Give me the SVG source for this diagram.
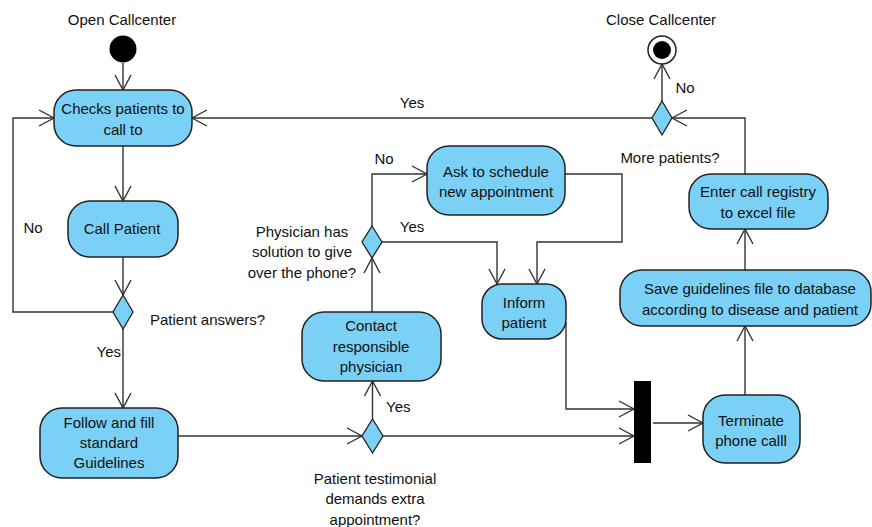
<svg xmlns="http://www.w3.org/2000/svg" width="872" height="527" viewBox="0 0 872 527">
  <style>
    .act { fill: #7bd0f5; stroke: #222; stroke-width: 1.5; }
    .dec { fill: #7bd0f5; stroke: #222; stroke-width: 1.3; }
    .edge { fill: none; stroke: #333; stroke-width: 1.4; marker-end: url(#arr); }
    text { font-family: "Liberation Sans", Arial, sans-serif; font-size: 15px; fill: #111; }
    .c { text-anchor: middle; }
  </style>
  <defs>
    <marker id="arr" markerWidth="20" markerHeight="20" refX="16" refY="9" orient="auto" markerUnits="userSpaceOnUse">
      <path d="M1,1 L16,9 L1,17" fill="none" stroke="#333" stroke-width="1.4"/>
    </marker>
  </defs>
  <rect width="872" height="527" fill="#fff"/>

  <g id="connectors">
    <path class="edge" d="M123,63 L123,90"/>
    <path class="edge" d="M123,146 L123,201"/>
    <path class="edge" d="M123,257 L123,295"/>
    <path class="edge" d="M113,312 L13,312 L13,118 L54,118"/>
    <path class="edge" d="M123,329 L123,408"/>
    <path class="edge" d="M178,436 L362,436"/>
    <path class="edge" d="M372.5,419 L372.5,381"/>
    <path class="edge" d="M383,436 L634,436"/>
    <path class="edge" d="M372,312 L372,258"/>
    <path class="edge" d="M372,226 L372,174 L427,174"/>
    <path class="edge" d="M382,242 L497,242 L497,284"/>
    <path class="edge" d="M565,174 L622,174 L622,242 L537,242 L537,284"/>
    <path class="edge" d="M566,322 L566,409 L634,409"/>
    <path class="edge" d="M653,423 L703,423"/>
    <path class="edge" d="M745,395 L745,326"/>
    <path class="edge" d="M745,270 L745,229"/>
    <path class="edge" d="M745,174 L745,118 L672,118"/>
    <path class="edge" d="M662,101 L662,64"/>
    <path class="edge" d="M652,118 L192,118"/>
  </g>

  <g id="labels">
    <text x="412" y="108" class="c">Yes</text>
    <text x="685" y="93" class="c">No</text>
    <text x="33" y="233" class="c">No</text>
    <text x="121" y="357" text-anchor="end">Yes</text>
    <text x="150" y="325">Patient answers?</text>
    <text x="386" y="412">Yes</text>
    <text x="384" y="164" class="c">No</text>
    <text x="412" y="232" class="c">Yes</text>
    <text x="670" y="163" class="c">More patients?</text>
  </g>

  <g id="start">
    <text x="122" y="25" class="c">Open Callcenter</text>
    <circle cx="123" cy="49" r="13.5" fill="#000"/>
  </g>

  <g id="end">
    <text x="661" y="25" class="c">Close Callcenter</text>
    <circle cx="662" cy="50" r="14" fill="#fff" stroke="#222" stroke-width="1.5"/>
    <circle cx="662" cy="50" r="9" fill="#000"/>
  </g>

  <g id="checks">
    <rect class="act" x="54" y="90" width="138" height="56" rx="22"/>
    <text x="123" y="114" class="c">Checks patients to</text>
    <text x="123" y="135" class="c">call to</text>
  </g>

  <g id="call">
    <rect class="act" x="68" y="201" width="110" height="56" rx="22"/>
    <text x="122" y="234" class="c">Call Patient</text>
  </g>

  <g id="answers">
    <polygon class="dec" points="123,295 133,312 123,329 113,312"/>
  </g>

  <g id="follow">
    <rect class="act" x="40" y="408" width="138" height="70" rx="22"/>
    <text x="109" y="428" class="c">Follow and fill</text>
    <text x="109" y="448" class="c">standard</text>
    <text x="109" y="468" class="c">Guidelines</text>
  </g>

  <g id="testimonial">
    <polygon class="dec" points="372.5,419 383,436 372.5,453 362,436"/>
    <text x="375" y="484" class="c">Patient testimonial</text>
    <text x="375" y="504" class="c">demands extra</text>
    <text x="375" y="525" class="c">appointment?</text>
  </g>

  <g id="contact">
    <rect class="act" x="302" y="312" width="139" height="69" rx="22"/>
    <text x="371" y="331" class="c">Contact</text>
    <text x="371" y="352" class="c">responsible</text>
    <text x="371" y="372" class="c">physician</text>
  </g>

  <g id="solution">
    <polygon class="dec" points="372,226 382,242 372,258 362,242"/>
    <text x="302" y="237" class="c">Physician has</text>
    <text x="302" y="257" class="c">solution to give</text>
    <text x="302" y="278" class="c">over the phone?</text>
  </g>

  <g id="schedule">
    <rect class="act" x="427" y="146" width="138" height="69" rx="22"/>
    <text x="496" y="177" class="c">Ask to schedule</text>
    <text x="496" y="197" class="c">new appointment</text>
  </g>

  <g id="inform">
    <rect class="act" x="482" y="284" width="84" height="55" rx="20"/>
    <text x="524" y="308" class="c">Inform</text>
    <text x="524" y="328" class="c">patient</text>
  </g>

  <g id="join">
    <rect x="634" y="381" width="17" height="82" fill="#000"/>
  </g>

  <g id="terminate">
    <rect class="act" x="703" y="395" width="97" height="68" rx="22"/>
    <text x="751" y="426" class="c">Terminate</text>
    <text x="751" y="446" class="c">phone calll</text>
  </g>

  <g id="save">
    <rect class="act" x="620" y="270" width="251" height="56" rx="22"/>
    <text x="750" y="294" class="c">Save guidelines file to database</text>
    <text x="750" y="315" class="c">according to disease and patient</text>
  </g>

  <g id="registry">
    <rect class="act" x="689" y="174" width="139" height="55" rx="22"/>
    <text x="758" y="197" class="c">Enter call registry</text>
    <text x="758" y="218" class="c">to excel file</text>
  </g>

  <g id="more">
    <polygon class="dec" points="662,101 672,118 662,135 652,118"/>
  </g>
</svg>
